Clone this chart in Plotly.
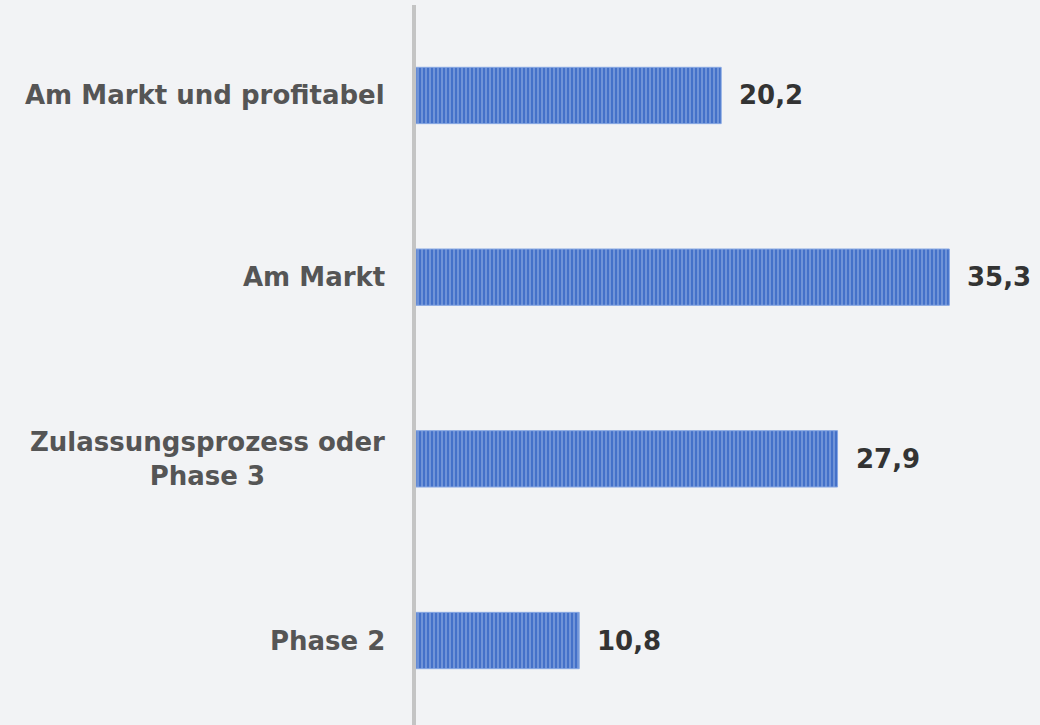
import plotly.graph_objects as go

categories = ["Am Markt und profitabel", "Am Markt", "Zulassungsprozess oder<br>Phase 3", "Phase 2"]
values = [20.2, 35.3, 27.9, 10.8]
value_labels = ["20,2", "35,3", "27,9", "10,8"]

fig = go.Figure(
    go.Bar(
        x=values,
        y=categories,
        orientation="h",
        width=0.31,
        marker=dict(
            color="#4471c9",
            line=dict(color="#86a6e2", width=1),
            pattern=dict(shape="|", fgcolor="#c2d3f3", bgcolor="#4471c9", size=4, solidity=0.35),
        ),
        hoverinfo="skip",
    )
)

# category labels, centred multi-line text left of the axis
for cat in categories:
    fig.add_annotation(
        x=0, xref="paper", y=cat, yref="y",
        text=cat, showarrow=False, xanchor="right", align="center",
        xshift=-29,
        font=dict(family="DejaVu Sans", size=26, color="#555555", weight="bold"),
    )

# value labels at the end of each bar
for cat, v, lab in zip(categories, values, value_labels):
    fig.add_annotation(
        x=v, y=cat, text=lab, showarrow=False, xanchor="left",
        xshift=16,
        font=dict(family="DejaVu Sans", size=26, color="#333333", weight="bold"),
    )

fig.update_layout(
    width=1040, height=725,
    margin=dict(l=416, r=0, t=5, b=0),
    paper_bgcolor="#f2f3f5",
    plot_bgcolor="rgba(0,0,0,0)",
    showlegend=False,
    xaxis=dict(range=[0, 41.3], visible=False, fixedrange=True),
    yaxis=dict(
        range=[3.465, -0.498],
        showticklabels=False,
        showgrid=False,
        zeroline=False,
        showline=True, linecolor="#c4c4c4", linewidth=4,
        ticks="",
    ),
)

fig.write_html("out.html")
